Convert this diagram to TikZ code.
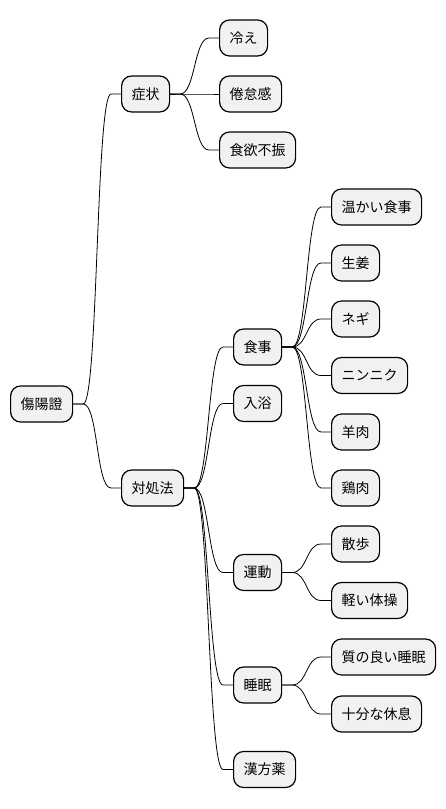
\documentclass[tikz,border=0pt]{standalone}
\usepackage{fontspec}
\setmainfont{Noto Sans CJK JP}
\usepackage{tikz}
\definecolor{boxgray}{HTML}{F1F1F1}
\tikzset{
  topic/.style={draw=black,fill=boxgray,line width=1.2pt,rounded corners=10pt,
    anchor=west,minimum height=36pt,inner xsep=10pt,inner ysep=0pt,
    font=\fontsize{14pt}{16pt}\selectfont},
  twig/.style={black,line width=0.8pt}
}
\newcommand{\br}[2]{\draw[twig] (#1.east) -- ++(10,0) .. controls +(15,0) and ([xshift=-25]#2.west) .. ([xshift=-10]#2.west) -- (#2.west);}

\begin{document}
\begin{tikzpicture}[x=1pt,y=-1pt]
	\useasboundingbox (0,0) rectangle (446,809);

	% root and first level
	\node[topic] (root) at (10,404) {傷陽證};
	\node[topic] (sym) at (121,94) {症状};
	\node[topic] (cure) at (121,488) {対処法};

	% symptoms
	\node[topic] (cold) at (219,38) {冷え};
	\node[topic] (tired) at (219,94) {倦怠感};
	\node[topic] (appet) at (219,150) {食欲不振};

	% remedies
	\node[topic] (meal) at (233,347) {食事};
	\node[topic] (bath) at (233,403.5) {入浴};
	\node[topic] (move) at (233,572.5) {運動};
	\node[topic] (sleep) at (233,685) {睡眠};
	\node[topic] (herb) at (233,769.5) {漢方薬};

	% food
	\node[topic] (warm) at (331,207) {温かい食事};
	\node[topic] (ginger) at (331,263) {生姜};
	\node[topic] (negi) at (331,319) {ネギ};
	\node[topic] (garlic) at (331,375.5) {ニンニク};
	\node[topic] (lamb) at (331,432) {羊肉};
	\node[topic] (chick) at (331,488) {鶏肉};

	% exercise and sleep
	\node[topic] (walk) at (331,544) {散歩};
	\node[topic] (gym) at (331,600.5) {軽い体操};
	\node[topic] (good) at (331,657) {質の良い睡眠};
	\node[topic] (rest) at (331,714) {十分な休息};

	\br{root}{sym} \br{root}{cure}
	\br{sym}{cold} \br{sym}{tired} \br{sym}{appet}
	\br{cure}{meal} \br{cure}{bath} \br{cure}{move} \br{cure}{sleep} \br{cure}{herb}
	\br{meal}{warm} \br{meal}{ginger} \br{meal}{negi}
	\br{meal}{garlic} \br{meal}{lamb} \br{meal}{chick}
	\br{move}{walk} \br{move}{gym}
	\br{sleep}{good} \br{sleep}{rest}
\end{tikzpicture}
\end{document}
